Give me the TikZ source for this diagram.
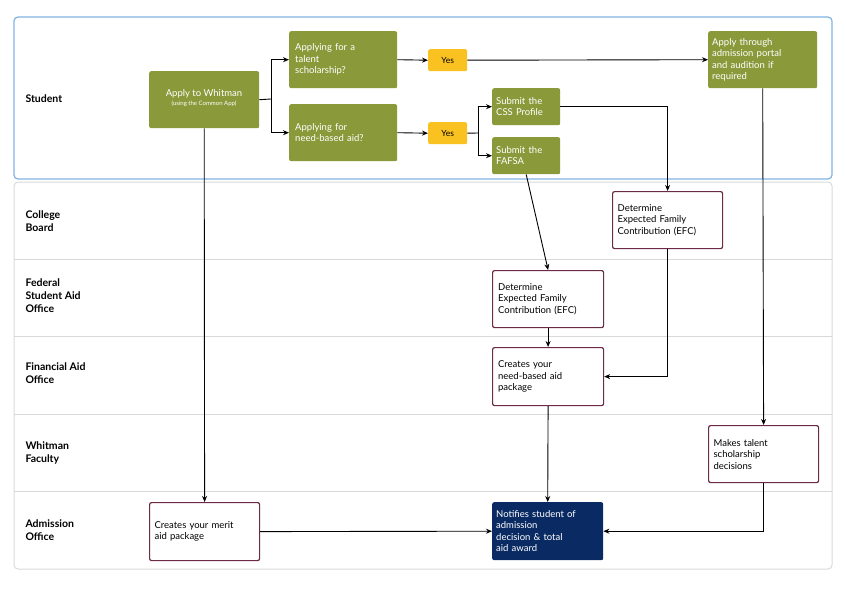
\documentclass[tikz,border=0pt]{standalone}
\usepackage{fontspec}
\setmainfont{Lato}
\usetikzlibrary{arrows.meta}
\definecolor{olive}{HTML}{8A9A3A}
\definecolor{maroon}{HTML}{6B2A45}
\definecolor{navy}{HTML}{0A2A63}
\definecolor{yel}{HTML}{F9C221}
\definecolor{lanebl}{HTML}{7FB2E0}
\definecolor{lanegr}{HTML}{D9D9D9}
\begin{document}
\begin{tikzpicture}[x=1pt,y=-1pt,
  box/.style={rounded corners=2pt,anchor=north west,inner sep=0pt,font=\fontsize{9.5}{11.5}\selectfont,align=left,text=white},
  act/.style={box,fill=olive},
  wbox/.style={box,fill=white,draw=maroon,line width=1.2pt,text=black},
  yes/.style={rounded corners=2pt,fill=yel,inner sep=0pt,minimum width=39pt,minimum height=22pt,anchor=north west,font=\fontsize{8.5}{10}\selectfont},
  lane/.style={anchor=west,align=left,font=\fontsize{10.5}{13}\selectfont\bfseries},
  arr/.style={-{Stealth[length=6pt,width=5pt]},line width=0.9pt}]
\useasboundingbox (0,0) rectangle (846,591);
\draw[lanegr,line width=1pt,rounded corners=4pt] (14,182) rectangle (832,569);
\foreach \y in {259,336,414,491} \draw[lanegr,line width=1pt] (14,\y) -- (832,\y);
\draw[lanebl,line width=1.2pt,rounded corners=4pt] (14,17) rectangle (832,179);
\node[lane] (l1) at (22,99) {Student};
\node[lane] (l2) at (22,221) {College\\Board};
\node[lane] (l3) at (22,296) {Federal\\Student Aid\\Office};
\node[lane] (l4) at (22,373) {Financial Aid\\Office};
\node[lane] (l5) at (22,453) {Whitman\\Faculty};
\node[lane] (l6) at (22,530) {Admission\\Office};

\node[act,minimum width=110pt,minimum height=57pt] (whit) at (149,71) {};
\node[font=\fontsize{9.5}{11}\selectfont,text=white,align=center,inner sep=0pt] (whitt) at (204,98) {Apply to Whitman\\[-2pt]{\fontsize{6}{7}\selectfont(using the Common App)}};
\node[act,minimum width=108pt,minimum height=57pt,text width=96pt,inner xsep=6pt] (tal) at (289,31) {Applying for a\\talent\\scholarship?};
\node[act,minimum width=108pt,minimum height=57pt,text width=96pt,inner xsep=6pt] (need) at (289,104) {Applying for\\need-based aid?};
\node[yes] (y1) at (428,49) {Yes};
\node[yes] (y2) at (428,122) {Yes};
\node[act,minimum width=68pt,minimum height=37pt,text width=60pt,inner xsep=4pt] (css) at (492,88) {Submit the\\CSS Profile};
\node[act,minimum width=68pt,minimum height=37pt,text width=60pt,inner xsep=4pt] (faf) at (492,137) {Submit the\\FAFSA};
\node[act,minimum width=109pt,minimum height=57pt,text width=101pt,inner xsep=4pt] (port) at (708,31) {Apply through\\admission portal\\and audition if\\required};
\node[wbox,minimum width=110pt,minimum height=57pt,text width=100pt,inner xsep=5pt] (efc1) at (612,191) {Determine\\Expected Family\\Contribution (EFC)};
\node[wbox,minimum width=111pt,minimum height=57pt,text width=100pt,inner xsep=5pt] (efc2) at (492,270) {Determine\\Expected Family\\Contribution (EFC)};
\node[wbox,minimum width=111pt,minimum height=58pt,text width=100pt,inner xsep=5pt] (pkg) at (492,347) {Creates your\\need-based aid\\package};
\node[wbox,minimum width=109pt,minimum height=57pt,text width=100pt,inner xsep=5pt] (tdec) at (708,425) {Makes talent\\scholarship\\decisions};
\node[wbox,minimum width=110pt,minimum height=58pt,text width=100pt,inner xsep=5pt] (merit) at (149,502) {Creates your merit\\aid package};
\node[box,fill=navy,minimum width=111pt,minimum height=58pt,text width=103pt,inner xsep=4pt] (note) at (492,502) {Notifies student of\\admission\\decision \& total\\aid award};

\coordinate (b1) at (271,99);
\draw[line width=0.9pt] (whit.east) -- (b1);
\draw[arr] (b1) |- (tal.west);
\draw[arr] (b1) |- (need.west);
\draw[arr] (tal.east) -- (y1.west);
\draw[arr] (y1.east) -- (port.west);
\draw[arr] (need.east) -- (y2.west);
\coordinate (b2) at (478,133);
\draw[line width=0.9pt] (y2.east) -- (b2);
\draw[arr] (b2) |- (css.west);
\draw[arr] (b2) |- (faf.west);
\draw[arr] (css.east) -| (efc1.north);
\draw[arr] (faf.south) -- (efc2.north);
\draw[arr] (efc2.south) -- (pkg.north);
\draw[arr] (efc1.south) |- (pkg.east);
\draw[arr] (port.south) -- (tdec.north);
\draw[arr] (tdec.south) |- (note.east);
\draw[arr] (pkg.south) -- (note.north);
\draw[arr] (whit.south) -- (merit.north);
\draw[arr] (merit.east) -- (note.west);
\end{tikzpicture}
\end{document}
